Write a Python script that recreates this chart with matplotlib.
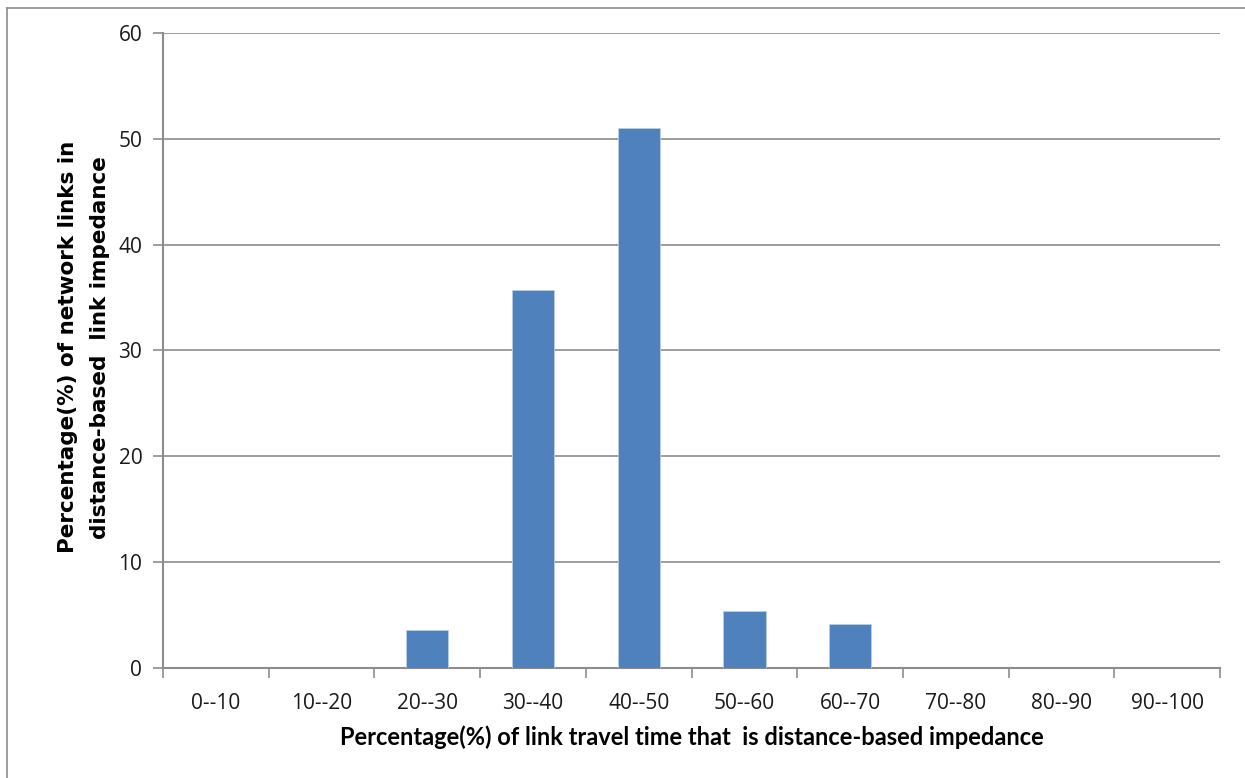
import matplotlib
matplotlib.use("Agg")
import matplotlib.pyplot as plt
from matplotlib.lines import Line2D
import numpy as np

# Data
CATEGORIES = ["0--10", "10--20", "20--30", "30--40", "40--50",
              "50--60", "60--70", "70--80", "80--90", "90--100"]
VALUES = [0, 0, 3.6, 35.7, 51.0, 5.4, 4.2, 0, 0, 0]

X_LABEL = "Percentage(%) of link travel time that  is distance-based impedance"
Y_LABEL = "Percentage(%) of network links in\ndistance-based  link impedance"

BAR_COLOR = "#4f81bd"
GRAY = "#8c8c8c"

fig = plt.figure(figsize=(12.45, 7.78), dpi=100)
ax = fig.add_axes([0.131, 0.1414, 0.849, 0.8162])

x = np.arange(len(CATEGORIES))
ax.bar(x, VALUES, width=0.4, color=BAR_COLOR, edgecolor="#b9cde5", linewidth=0.6, zorder=3)

ax.set_xlim(-0.5, len(CATEGORIES) - 0.5)
ax.set_ylim(0, 60)
ax.set_yticks(range(0, 61, 10))
ax.set_xticks(x)
ax.set_xticklabels(CATEGORIES, fontsize=15, family="Open Sans", color="#1a1a1a")
ax.set_xticks(np.arange(-0.5, len(CATEGORIES), 1), minor=True)
ax.tick_params(axis="x", which="major", length=0, pad=18)
ax.tick_params(axis="x", which="minor", length=7, width=1.2, color=GRAY, direction="out")
ax.tick_params(axis="y", length=7, width=1.2, color=GRAY, pad=8, labelsize=15, labelcolor="#1a1a1a")
for lab in ax.get_yticklabels():
    lab.set_family("Open Sans")

ax.grid(axis="y", color=GRAY, linewidth=1.2, zorder=0)
for side in ["top", "right"]:
    ax.spines[side].set_visible(False)
for side in ["left", "bottom"]:
    ax.spines[side].set_color(GRAY)
    ax.spines[side].set_linewidth(1.5)

ax.set_xlabel(X_LABEL, fontsize=17, fontweight="bold", family="Lato", labelpad=8)
ax.set_ylabel(Y_LABEL, fontsize=15.5, fontweight="bold", family="DejaVu Sans",
              linespacing=1.75)
ax.yaxis.set_label_coords(-0.050, 0.505)

# outer chart frame
fig.add_artist(Line2D([7 / 1245, 7 / 1245], [0, 1 - 8 / 778], color=GRAY, lw=1.2))
fig.add_artist(Line2D([7 / 1245, 1], [1 - 8 / 778, 1 - 8 / 778], color=GRAY, lw=1.2))

fig.savefig("out.png", dpi=100)
